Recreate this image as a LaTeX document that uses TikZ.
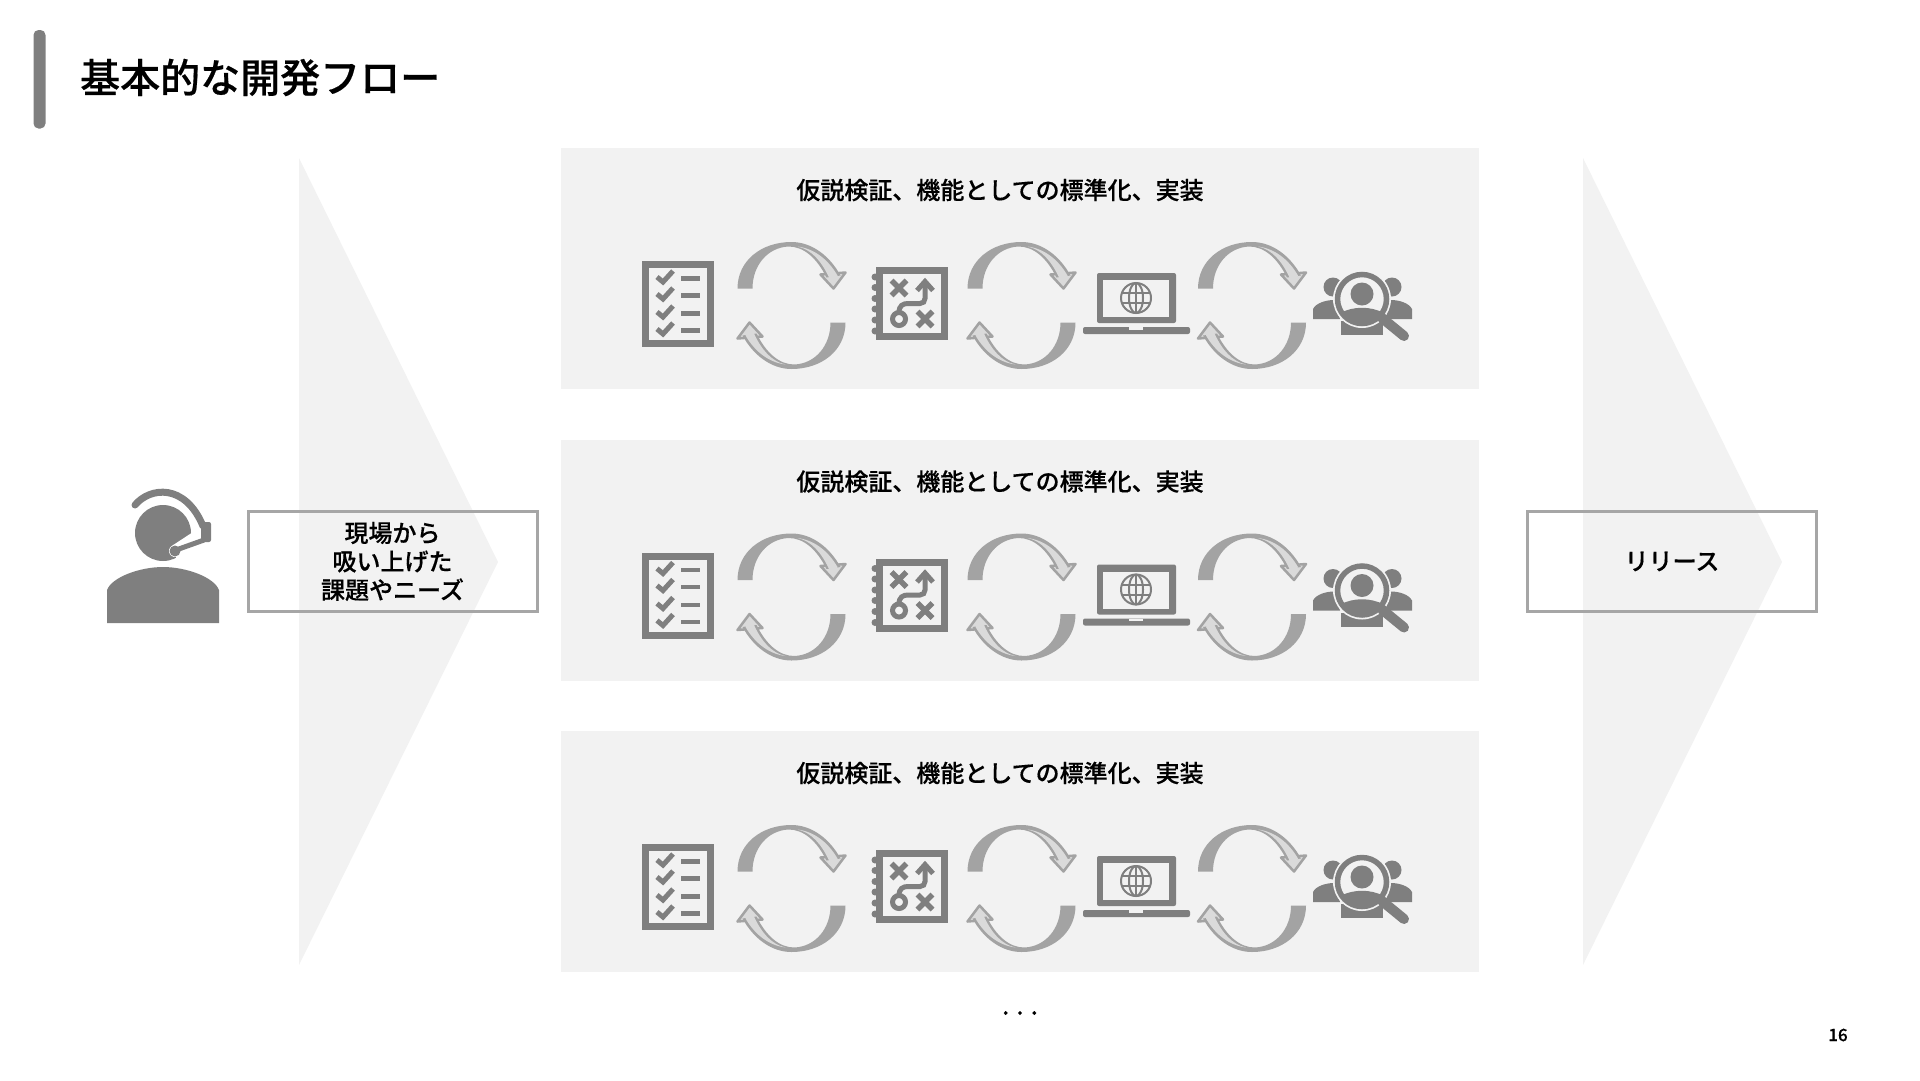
\documentclass[tikz,border=0pt]{standalone}
\usepackage{fontspec}
\setmainfont[FakeBold=0.3]{Noto Sans CJK JP Medium}
\newfontfamily\headfont[FakeBold=0.45]{Noto Sans CJK JP Medium}
\usetikzlibrary{positioning}
\definecolor{icongray}{HTML}{7F7F7F}
\definecolor{panelgray}{HTML}{F2F2F2}
\definecolor{framegray}{HTML}{A6A6A6}
\definecolor{cyclegray}{HTML}{A3A3A3}
\definecolor{cyclelight}{HTML}{DADADA}
\tikzset{
  panel/.style   ={fill=panelgray, inner sep=0pt, minimum width=918pt, minimum height=241pt},
  framebox/.style={draw=framegray, line width=3pt, inner sep=0pt, minimum width=289pt,
                   minimum height=100.5pt, align=center, font=\labelfont},
  rowtitle/.style={inner sep=0pt, font=\labelfont},
  halfcycle/.pic ={
    \filldraw[fill=cyclelight, draw=cyclegray, line width=2.5pt, line join=round]
      (29,-31) -- (54,-33) -- (42,-17) -- cycle;
    \fill[cyclegray] (-54,-17) .. controls (-54,-45) and (-30,-63.5) .. (0,-63.5)
      .. controls (20,-63.5) and (38,-50) .. (49,-30) -- (35,-28)
      .. controls (25,-48) and (12,-59) .. (-3,-59)
      .. controls (-24,-58) and (-39,-40) .. (-39,-17) -- cycle;
    \fill[cyclelight] (6,-59) .. controls (20,-56) and (30,-44) .. (37,-29) -- (41,-22) -- (46,-30)
      .. controls (36,-47) and (22,-57) .. cycle;
  },
  cycleicon/.pic ={
    \pic {halfcycle};
    \pic[rotate=180] {halfcycle};
  },
  checkicon/.pic ={
    \draw[icongray, line width=7pt] (-32.5,-39.5) rectangle (32.5,39.5);
    \foreach \ty in {-27,-10,8,25}{
      \draw[icongray, line width=5pt] (-21,\ty) -- (-15,\ty+5) -- (-5,\ty-6);
      \draw[icongray, line width=4.5pt] (3,\ty+1.5) -- (22,\ty+1.5);
    }
  },
  mapicon/.pic   ={
    \draw[icongray, line width=7pt] (-32.5,-33) rectangle (32.5,33);
    \foreach \ty in {-26.5,-16,-5,5.5,16.5,27.5}
      \fill[icongray] (-37,\ty) circle (3.5);
    \foreach \tx/\ty in {-13/-15.5,13/15.5}{
      \draw[icongray, line width=5.5pt] (\tx-7.5,\ty-7.5) -- (\tx+7.5,\ty+7.5);
      \draw[icongray, line width=5.5pt] (\tx-7.5,\ty+7.5) -- (\tx+7.5,\ty-7.5);
    }
    \draw[icongray, line width=5pt] (-13,15.5) circle (6.5);
    \draw[icongray, line width=5pt] (-13,9) .. controls (-13,2) and (-9,0) .. (-4,0)
      -- (8,0) .. controls (11,0) and (13,-2) .. (13,-5) -- (13,-21);
    \draw[icongray, line width=5pt] (5,-13) -- (13,-22) -- (21,-13);
  },
  laptopicon/.pic={
    \fill[icongray, rounded corners=2pt] (-39,-30) rectangle (40,20);
    \fill[panelgray] (-33,-23) rectangle (33,14);
    \draw[icongray, line width=2pt] (0,-5) circle (15);
    \draw[icongray, line width=2pt] (0,-5) ellipse (7 and 15);
    \draw[icongray, line width=2pt] (0,-20) -- (0,10);
    \draw[icongray, line width=2pt] (-14,-10) -- (14,-10);
    \draw[icongray, line width=2pt] (-14,0) -- (14,0);
    \fill[icongray, rounded corners=2pt] (-53,24) rectangle (54,31);
    \fill[panelgray] (-7,24) rectangle (7,26.5);
  },
  searchicon/.pic={
    \fill[icongray] (-29,-16) circle (9.5);
    \fill[icongray] (30,-16) circle (9.5);
    \fill[icongray] (-49,16) -- (-49,6) .. controls (-46,0) and (-36,-3) .. (-28,-3)
      -- (-22,16) -- cycle;
    \fill[icongray] (50,16) -- (50,6) .. controls (47,0) and (37,-3) .. (29,-3)
      -- (23,16) -- cycle;
    \fill[icongray] (-21,18) rectangle (21,32);
    \fill[panelgray] (0,-4) circle (29);
    \fill[icongray] (0,-9) circle (11.5);
    \fill[icongray] (-22,10) .. controls (-8,3) and (8,3) .. (22,10)
      .. controls (10,24) and (-10,24) .. (-22,10) -- cycle;
    \draw[icongray, line width=5.5pt] (0,-4) circle (24.5);
    \draw[icongray, line width=10pt, line cap=round] (20,15) -- (42,33);
  }
}
\newcommand{\labelfont}{\fontsize{24}{28.5}\selectfont}

\begin{document}
\begin{tikzpicture}[x=1pt, y=-1pt]
  \useasboundingbox (0,0) rectangle (1920,1080);

  % heading
  \fill[icongray, rounded corners=5pt] (33.5,30) rectangle (45.5,128.5);
  \node[anchor=west, inner sep=0pt, font=\headfont\fontsize{40}{44}\selectfont](title) at (80,77.5){基本的な開発フロー};

  % chevrons
  \fill[panelgray] (299,158) -- (498,562) -- (299,965) -- cycle;
  \fill[panelgray] (1583,158) -- (1782,562) -- (1583,965) -- cycle;

  % rows
  \foreach \rowname/\dy in {a/0,b/291.5,c/583}{
    \node[panel](panel\rowname) at (1020,268.5+\dy){};
    \node[rowtitle](label\rowname) at (1000,190+\dy){仮説検証、機能としての標準化、実装};
    \pic at (678,304+\dy) {checkicon};
    \pic at (791.5,305.5+\dy) {cycleicon};
    \pic at (912,303.5+\dy) {mapicon};
    \pic at (1021.5,305.5+\dy) {cycleicon};
    \pic at (1136,303+\dy) {laptopicon};
    \pic at (1252,305.5+\dy) {cycleicon};
    \pic at (1362,303+\dy) {searchicon};
  }

  % operator with headset
  \fill[icongray] (107,623) -- (107,590) .. controls (112,577) and (140,567) .. (163,567)
    .. controls (186,567) and (214,577) .. (219,590) -- (219,623) -- cycle;
  \fill[icongray] (163,533) circle (28);
  \draw[white, line width=12pt, line cap=round] (204,532) -- (175,551);
  \fill[white] (176,552) rectangle (196,565);
  \draw[icongray, line width=7pt, line cap=round] (135,505) .. controls (150,487) and (185,483) .. (203,526);
  \fill[icongray, rounded corners=2pt] (201,522) rectangle (211,542);
  \draw[icongray, line width=5pt] (204,540) -- (176,550);
  \fill[icongray] (175,551) circle (5.5);

  \node[framebox](source) at (392.5,561.5){現場から\\吸い上げた\\課題やニーズ};
  \node[framebox](release) at (1672,561.5){リリース};

  \node[rowtitle](more) at (1020,1013){. . .};
  \node[inner sep=0pt, font=\headfont\fontsize{17}{20}\selectfont](pageno) at (1838,1035){16};
\end{tikzpicture}
\end{document}
